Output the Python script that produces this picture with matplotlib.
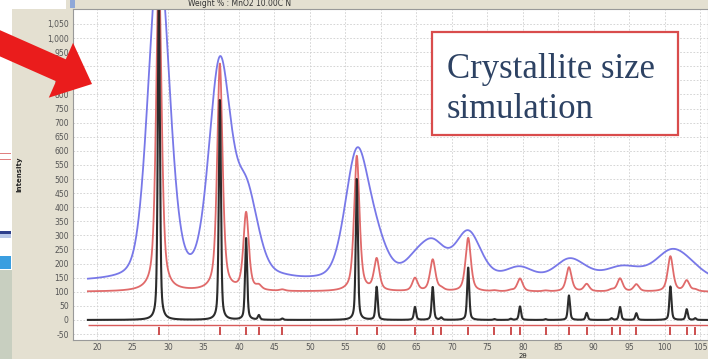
import numpy as np
import matplotlib
matplotlib.use("Agg")
import matplotlib.pyplot as plt
from matplotlib.patches import Rectangle, FancyArrow
from matplotlib.transforms import Affine2D

W, H = 708, 359

# reflection positions (2theta) and peak heights
peak_pos = [28.7, 37.3, 41.0, 42.8, 46.1, 56.6, 59.4, 64.8, 67.3, 68.5, 72.3, 76.0,
            78.3, 79.6, 83.2, 86.5, 89.0, 92.5, 93.7, 96.0, 100.8, 103.1, 104.3]
black_h = [1150, 780, 290, 16, 5, 500, 117, 46, 117, 8, 186, 3,
           4, 48, 3, 87, 25, 6, 46, 24, 119, 38, 6]
red_h = [1150, 805, 275, 14, 5, 480, 112, 46, 112, 8, 190, 3,
         4, 46, 3, 86, 26, 6, 46, 25, 125, 38, 6]
blue_h = [1150, 760, 290, 16, 5, 440, 110, 55, 110, 10, 170, 3,
          4, 42, 3, 70, 15, 4, 35, 18, 90, 30, 8]
red_offset = 100
blue_offset = 135

x_ticks = list(range(20, 110, 5))
y_ticks = list(range(-50, 1100, 50))


def pv(x, x0, h, fwhm, eta):
    g = np.exp(-4 * np.log(2) * ((x - x0) / fwhm) ** 2)
    l = 1 / (1 + 4 * ((x - x0) / fwhm) ** 2)
    return h * (eta * l + (1 - eta) * g)


def pattern(x, heights, fwhm0, eta, scherrer=False):
    y = np.zeros_like(x)
    for p, h in zip(peak_pos, heights):
        w = fwhm0 / np.cos(np.radians(p / 2)) if scherrer else fwhm0
        y += pv(x, p, h, w, eta)
    return y


fig = plt.figure(figsize=(W / 100, H / 100), dpi=100, facecolor="#e4e0d1")
pix = Affine2D().scale(1 / W, -1 / H).translate(0, 1) + fig.transFigure

# window clutter around the plot
fig.patches.append(Rectangle((0, 0), 12, 270, transform=pix, facecolor="white", edgecolor="none"))
fig.patches.append(Rectangle((0, 0), 66, 9, transform=pix, facecolor="white", edgecolor="none"))
fig.patches.append(Rectangle((0, 153), 11, 1.2, transform=pix, facecolor="#e08080", edgecolor="none"))
fig.patches.append(Rectangle((0, 159), 11, 1.2, transform=pix, facecolor="#e08080", edgecolor="none"))
fig.patches.append(Rectangle((0, 231), 11, 3, transform=pix, facecolor="#2c3f8c", edgecolor="none"))
fig.patches.append(Rectangle((0, 234), 11, 4, transform=pix, facecolor="#b8c8e8", edgecolor="none"))
fig.patches.append(Rectangle((0, 256), 11, 13, transform=pix, facecolor="#3a9ee0", edgecolor="none"))
fig.patches.append(Rectangle((0, 270), 12, 89, transform=pix, facecolor="#c8cfc0", edgecolor="none"))
fig.patches.append(Rectangle((70, 0), 5, 8, transform=pix, facecolor="#8fa8d8", edgecolor="none"))
fig.text(240 / W, 1 - 4 / H, "Weight % : MnO2 10.00C N", fontsize=5.5, color="#333333",
         ha="center", va="center")

ax = fig.add_axes([73 / W, (H - 340) / H, (W - 73) / W, (340 - 9) / H])
x = np.linspace(18.7, 106.5, 4000)
ax.plot(x, pattern(x, blue_h, 3.41, 0.25, scherrer=True) + blue_offset, color="#7878e8", lw=1.3)
ax.plot(x, pattern(x, red_h, 0.9, 0.6) + red_offset, color="#e06a6a", lw=1.3)
ax.plot(x, pattern(x, black_h, 0.35, 0.5), color="#151515", lw=1.5, alpha=0.9)

# reference reflection markers
ax.hlines(-18, 18.7, 106.5, color="#d85a5a", lw=1.0)
ax.vlines(peak_pos, -55, -25, color="#c84040", lw=1.3)

ax.set_xlim(16.6, 106.1)
ax.set_ylim(-71, 1103)
ax.set_xticks(x_ticks)
ax.set_yticks(y_ticks)
ax.set_yticklabels([f"{v:,}" for v in y_ticks])
ax.tick_params(length=0, labelsize=5.5, colors="#555555", pad=3)
ax.tick_params(axis="x", pad=2)
ax.grid(True, color="#cfcfcf", linestyle=(0, (2, 2)), linewidth=0.6)
for s in ax.spines.values():
    s.set_color("#999999")
    s.set_linewidth(0.8)
ax.set_ylabel("Intensity", fontsize=5, fontweight="bold", color="#222222")
ax.yaxis.set_label_coords((22 - 73) / (W - 73), 0.5)
ax.set_xlabel("2θ", fontsize=5, color="#222222")
ax.xaxis.set_label_coords((523 - 73) / (W - 73), -12.8 / 331)

# annotation box
fig.patches.append(Rectangle((432, 32), 246, 103, transform=pix, facecolor="white",
                             edgecolor="#d94c4c", lw=1.6, zorder=5))
fig.text(447 / W, 1 - 78 / H, "Crystallite size", fontsize=25, family="Liberation Serif",
         color="#2d4263", va="baseline", zorder=6)
fig.text(447 / W, 1 - 118 / H, "simulation", fontsize=25, family="Liberation Serif",
         color="#2d4263", va="baseline", zorder=6)

# big red arrow
fig.patches.append(FancyArrow(-12, 38, 104, 46, width=24, head_width=60, head_length=34,
                              length_includes_head=True, transform=pix,
                              facecolor="#ea1c1c", edgecolor="none", zorder=7))

fig.savefig("out.png", dpi=100, facecolor=fig.get_facecolor())
